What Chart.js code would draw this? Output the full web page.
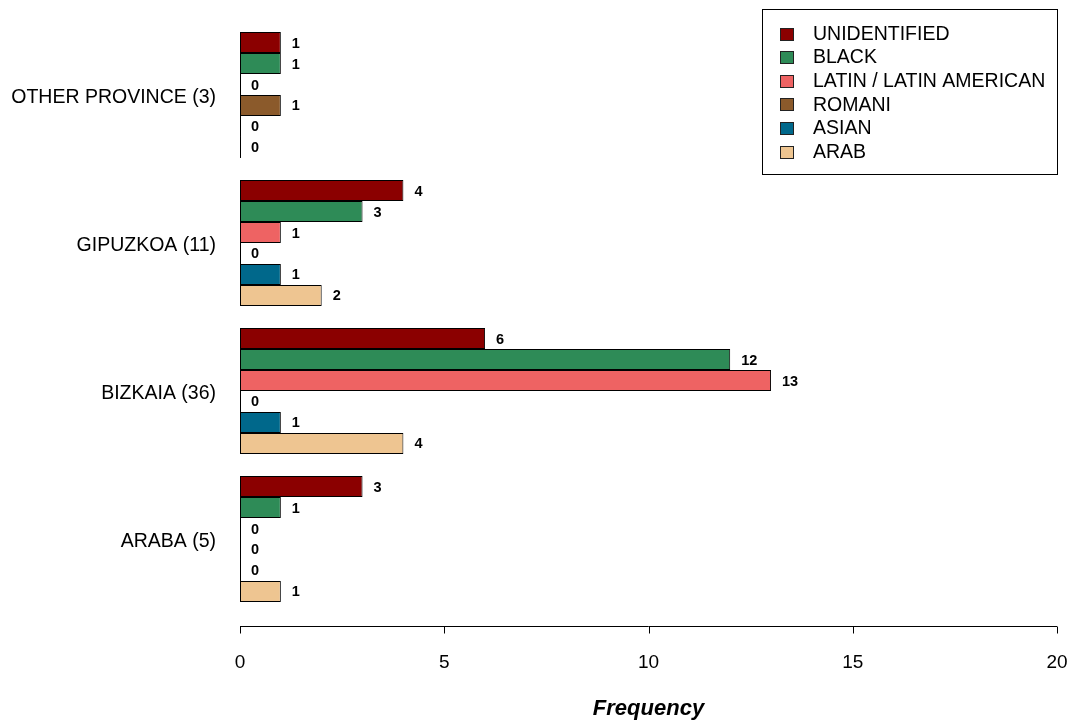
<!DOCTYPE html>
<html>
<head>
<meta charset="utf-8">
<script src="https://cdn.jsdelivr.net/npm/chart.js@4/dist/chart.umd.min.js"></script>
<style>
  html, body { margin: 0; padding: 0; background: #fff; }
  #wrap { width: 1071px; height: 720px; }
</style>
</head>
<body>
<div id="wrap"><canvas id="myChart" width="1071" height="720"></canvas></div>
<script>
// provinces, top to bottom
const provinces = ['OTHER PROVINCE (3)', 'GIPUZKOA (11)', 'BIZKAIA (36)', 'ARABA (5)'];
const groups = ['UNIDENTIFIED', 'BLACK', 'LATIN / LATIN AMERICAN', 'ROMANI', 'ASIAN', 'ARAB'];
const colors = ['#8b0000', '#2e8b57', '#ee6363', '#8b5a2b', '#00688b', '#eec591'];

// counts per group, in province order
const unidentified = [1, 4, 6, 3];
const black        = [1, 3, 12, 1];
const latin        = [0, 1, 13, 0];
const romani       = [1, 0, 0, 0];
const asian        = [0, 1, 1, 0];
const arab         = [0, 2, 4, 1];
const series = [unidentified, black, latin, romani, asian, arab];

const xTicks = [0, 5, 10, 15, 20];
const FONT = '"Liberation Sans", Arial, sans-serif';

// value labels + zero bars drawn as a thin line
const barLabels = {
    id: 'barLabels',
    afterDatasetsDraw(chart) {
        const ctx = chart.ctx;
        ctx.save();
        ctx.font = 'bold 14.5px ' + FONT;
        ctx.fillStyle = '#000';
        ctx.textBaseline = 'middle';
        ctx.textAlign = 'left';
        chart.data.datasets.forEach((ds, i) => {
            chart.getDatasetMeta(i).data.forEach((bar, j) => {
                const v = ds.data[j];
                if (v === 0) {
                    ctx.strokeStyle = '#000';
                    ctx.lineWidth = 1;
                    ctx.beginPath();
                    ctx.moveTo(Math.round(bar.base) + 0.5, bar.y - bar.height / 2);
                    ctx.lineTo(Math.round(bar.base) + 0.5, bar.y + bar.height / 2);
                    ctx.stroke();
                }
                ctx.fillText(String(v), bar.x + 11, bar.y + 1);
            });
        });
        ctx.restore();
    }
};

// R style axis, detached from the plot
const rAxis = {
    id: 'rAxis',
    afterDraw(chart) {
        const ctx = chart.ctx, sx = chart.scales.x;
        const y = Math.round(chart.chartArea.bottom + 13) + 0.5;
        ctx.save();
        ctx.strokeStyle = '#000';
        ctx.lineWidth = 1;
        ctx.beginPath();
        ctx.moveTo(sx.getPixelForValue(xTicks[0]), y);
        ctx.lineTo(sx.getPixelForValue(xTicks[xTicks.length - 1]), y);
        xTicks.forEach(t => {
            const px = Math.round(sx.getPixelForValue(t)) + 0.5;
            ctx.moveTo(px, y);
            ctx.lineTo(px, y + 7);
        });
        ctx.stroke();
        ctx.restore();
    }
};

// boxed legend in the top right
const boxLegend = {
    id: 'boxLegend',
    afterDraw(chart) {
        const ctx = chart.ctx;
        ctx.save();
        ctx.strokeStyle = '#000';
        ctx.lineWidth = 1;
        ctx.strokeRect(762.5, 9.5, 295, 165);
        ctx.font = '19.5px ' + FONT;
        ctx.textBaseline = 'middle';
        chart.data.datasets.forEach((ds, i) => {
            const cy = 33.5 + i * 23.6;
            const top = Math.round(cy - 6);
            ctx.fillStyle = ds.backgroundColor;
            ctx.fillRect(780, top, 14, 13);
            ctx.strokeStyle = '#222';
            ctx.strokeRect(780.5, top + 0.5, 13, 12);
            ctx.fillStyle = '#000';
            ctx.fillText(ds.label, 813, cy + 1);
        });
        ctx.restore();
    }
};

new Chart(document.getElementById('myChart').getContext('2d'), {
    type: 'bar',
    data: {
        labels: provinces,
        datasets: groups.map((g, i) => ({
            label: g,
            data: series[i],
            backgroundColor: colors[i],
            borderColor: '#000',
            borderWidth: 1,
            borderSkipped: false,
            categoryPercentage: 0.851,
            barPercentage: 1
        }))
    },
    options: {
        indexAxis: 'y',
        responsive: false,
        animation: false,
        layout: { padding: { top: 21, right: 14, left: 0, bottom: 0 } },
        plugins: {
            legend: { display: false },
            tooltip: { enabled: false }
        },
        scales: {
            x: {
                min: 0,
                max: 20,
                afterBuildTicks(axis) { axis.ticks = xTicks.map(v => ({ value: v })); },
                grid: { display: false },
                border: { display: false },
                ticks: {
                    color: '#000',
                    font: { family: FONT, size: 19 },
                    padding: 30,
                    maxRotation: 0
                },
                title: {
                    display: true,
                    text: 'Frequency',
                    color: '#000',
                    font: { family: FONT, size: 22, weight: 'bold', style: 'italic' },
                    padding: { top: 0, bottom: -2 }
                },
                afterFit(axis) {
                    axis.height = 107;
                    axis.paddingLeft = 0;
                    axis.paddingRight = 0;
                }
            },
            y: {
                grid: { display: false },
                border: { display: false },
                ticks: {
                    color: '#000',
                    font: { family: FONT, size: 19.5 },
                    padding: 16,
                    labelOffset: 3
                },
                afterFit(axis) {
                    axis.width = 240;
                    axis.paddingTop = 0;
                    axis.paddingBottom = 0;
                }
            }
        }
    },
    plugins: [barLabels, rAxis, boxLegend]
});
</script>
</body>
</html>
